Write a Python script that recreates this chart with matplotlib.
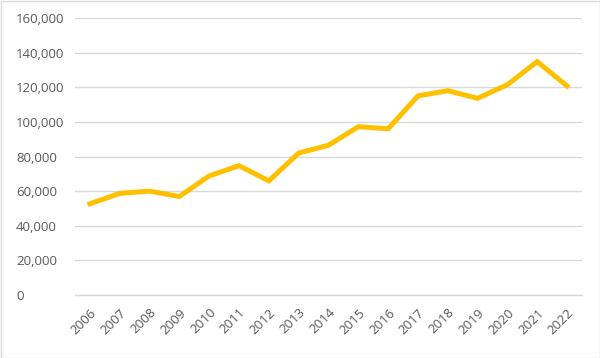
import matplotlib
matplotlib.use("Agg")
import matplotlib.pyplot as plt
from matplotlib.ticker import FuncFormatter, MultipleLocator
from matplotlib.patches import Rectangle

years = ["2006", "2007", "2008", "2009", "2010", "2011", "2012", "2013", "2014",
         "2015", "2016", "2017", "2018", "2019", "2020", "2021", "2022"]
values = [52700, 58700, 60000, 56900, 68800, 74700, 65900, 82000, 86500,
          97200, 96000, 115000, 118000, 113600, 121500, 134800, 120700]

plt.rcParams['font.family'] = ['Open Sans', 'DejaVu Sans']

fig = plt.figure(figsize=(6.0, 3.58), dpi=100)
ax = fig.add_axes([75/600, 1-295/358, (582-75)/600, (295-18)/358])

x = list(range(len(years)))
ax.plot(x, values, color="#FFC000", linewidth=3.6, solid_joinstyle="miter", zorder=3)

ax.set_xlim(-0.5, len(years) - 0.5)
ax.set_ylim(0, 160000)
ax.yaxis.set_major_locator(MultipleLocator(20000))
ax.yaxis.set_major_formatter(FuncFormatter(lambda v, p: f"{int(v):,}"))
ax.grid(axis="y", color="#D9D9D9", linewidth=1.0)
ax.set_axisbelow(True)
for s in ["top", "right", "left"]:
    ax.spines[s].set_visible(False)
ax.spines["bottom"].set_color("#D9D9D9")
ax.spines["bottom"].set_linewidth(1.0)

ax.set_xticks(x)
ax.set_xticklabels(years, rotation=45, ha="right", va="top", rotation_mode="anchor")
ax.tick_params(axis="both", length=0, colors="#595959", labelsize=9.5)
ax.tick_params(axis="x", pad=8)
for lab in ax.get_yticklabels():
    lab.set_horizontalalignment("left")
ax.tick_params(axis="y", pad=42.5)

fig.patches.append(Rectangle((0.5/600, 0.5/358), 1-1/600, 1-1/358, transform=fig.transFigure,
                             fill=False, edgecolor="#D9D9D9", linewidth=1))

fig.savefig("out.png", dpi=100)
